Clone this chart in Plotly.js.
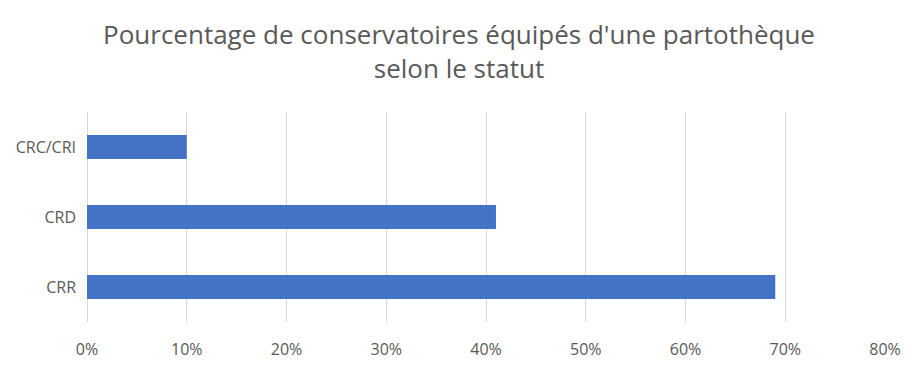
<!DOCTYPE html>
<html><head><meta charset="utf-8">
<script src="https://cdn.plot.ly/plotly-3.0.1.min.js"></script>
<style>body{margin:0;background:#fff}</style>
</head><body><div id="chart" style="width:918px;height:365px"></div>
<script>
const categories = ["CRR", "CRD", "CRC/CRI"];
const values = [0.69, 0.41, 0.10];
const tickVals = [0, 0.1, 0.2, 0.3, 0.4, 0.5, 0.6, 0.7, 0.8];
const tickLabels = ["0%", "10%", "20%", "30%", "40%", "50%", "60%", "70%", "80%"];

Plotly.newPlot("chart", [{
  type: "bar", orientation: "h",
  x: values, y: categories,
  marker: {color: "#4472c4"},
  width: 0.34,
  hoverinfo: "x+y"
}], {
  width: 918, height: 365,
  margin: {l: 87, r: 33, t: 112, b: 43},
  paper_bgcolor: "#fff", plot_bgcolor: "#fff",
  font: {family: "Open Sans, sans-serif", color: "#595959", size: 16},
  title: {text: "Pourcentage de conservatoires équipés d'une partothèque<br>selon le statut",
          x: 0.5, xanchor: "center", y: 0.88, yanchor: "top",
          font: {size: 26, color: "#595959"}},
  xaxis: {range: [0, 0.8], tickvals: tickVals, ticktext: tickLabels,
          showgrid: true, gridcolor: "#d9d9d9", gridwidth: 1,
          zeroline: true, zerolinecolor: "#d9d9d9", showline: false,
          ticks: "", ticklabelstandoff: 16,
          tickfont: {size: 16, color: "#595959"}, fixedrange: true},
  yaxis: {categoryorder: "array", categoryarray: categories,
          showgrid: false, zeroline: false, showline: false, ticks: "",
          ticklabelstandoff: 10,
          tickfont: {size: 16, color: "#595959"}, fixedrange: true},
  bargap: 0.66,
  showlegend: false
}, {displayModeBar: false, staticPlot: true});
</script></body></html>
